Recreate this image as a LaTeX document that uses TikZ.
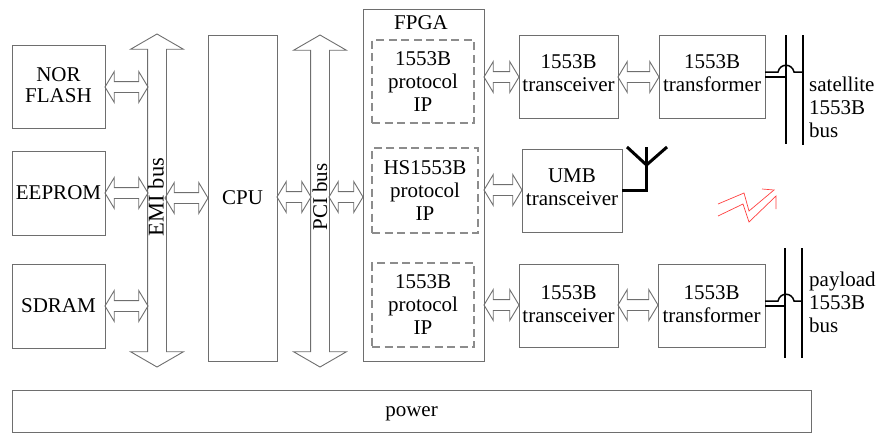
\documentclass[tikz,border=0pt]{standalone}
\usepackage{fontspec}
\setmainfont{Liberation Serif}
\usetikzlibrary{shapes.arrows}
\definecolor{edgegrey}{HTML}{6E6E6E}
\definecolor{dashgrey}{HTML}{8C8C8C}
\tikzset{
  x=1pt,y=-1pt,
  txt/.style={font=\fontsize{21}{23}\selectfont,align=center,inner sep=0pt,text=black},
  boxn/.style={draw=edgegrey,line width=1pt,fill=none,inner sep=0pt,outer sep=0pt,txt},
  dashbox/.style={boxn,draw=dashgrey,line width=1.1pt,dash pattern=on 8pt off 4.5pt},
  lift/.style={text depth=#1},
  harrow/.style={draw=edgegrey,line width=0.9pt,double arrow,inner xsep=0pt,inner ysep=5pt,outer sep=0pt,
    double arrow head extend=10pt,double arrow tip angle=118,shape border rotate=0},
  varrow/.style={draw=edgegrey,line width=0.9pt,double arrow,inner xsep=9pt,inner ysep=0pt,outer sep=0pt,
    double arrow head extend=17pt,double arrow tip angle=120,shape border rotate=90},
  wire/.style={draw=black,line width=1.5pt},
  redl/.style={draw=red!75!white,line width=0.7pt},
}
\begin{document}
\begin{tikzpicture}
\useasboundingbox (0,0) rectangle (878,434);
% memory
\node[boxn,minimum width=93pt,minimum height=83pt,font=\fontsize{21}{21}\selectfont,lift=3pt] (nor) at (58.5,86.5) {NOR\\FLASH};
\node[boxn,minimum width=93pt,minimum height=84pt] (eeprom) at (58.5,193) {EEPROM};
\node[boxn,minimum width=93pt,minimum height=84pt] (sdram) at (58.5,306) {SDRAM};
\node[boxn,minimum width=69pt,minimum height=326pt] (cpu) at (242.5,198) {CPU};
% buses
\node[varrow,minimum height=333pt] (emi) at (157,200.5) {};
\node[varrow,minimum height=332pt] (pci) at (320,201) {};
\node[txt,rotate=90,font=\fontsize{22.5}{24}\selectfont] (emil) at (156,197) {EMI bus};
\node[txt,rotate=90] (pcil) at (320,197) {PCI bus};
% FPGA
\node[boxn,minimum width=121pt,minimum height=352pt] (fpga) at (423.5,185) {};
\node[txt] (fpgal) at (421,23) {FPGA};
\node[dashbox,minimum width=102pt,minimum height=83pt] (ipa) at (423,81.5) {1553B\\protocol\\IP};
\node[dashbox,minimum width=106pt,minimum height=85pt] (ipb) at (425,190.5) {HS1553B\\protocol\\IP};
\node[dashbox,minimum width=102pt,minimum height=84pt] (ipc) at (423,305) {1553B\\protocol\\IP};
% transceivers
\node[boxn,minimum width=99pt,minimum height=83pt,lift=6pt] (xa) at (568.5,76.5) {1553B\\transceiver};
\node[boxn,minimum width=100pt,minimum height=83pt,lift=7pt] (xb) at (572,190.5) {UMB\\transceiver};
\node[boxn,minimum width=99pt,minimum height=83pt,lift=3pt] (xc) at (568.5,305.5) {1553B\\transceiver};
\node[boxn,minimum width=106pt,minimum height=83pt,lift=6pt] (ta) at (712,76.5) {1553B\\transformer};
\node[boxn,minimum width=107pt,minimum height=83pt,lift=3pt] (tc) at (711.5,305.5) {1553B\\transformer};
\node[boxn,minimum width=799pt,minimum height=42pt,text height=11pt,text depth=0pt] (power) at (411.5,411) {power};
% double arrows
\node[harrow,minimum height=43pt] (a1) at (126.5,87) {};
\node[harrow,minimum height=43pt] (a2) at (126.5,193) {};
\node[harrow,minimum height=43pt] (a3) at (126.5,306) {};
\node[harrow,minimum height=43pt] (a4) at (186.5,198) {};
\node[harrow,minimum height=34pt] (a5) at (294,197) {};
\node[harrow,minimum height=34pt] (a6) at (346,197) {};
\node[harrow,minimum height=35pt] (a7) at (501.5,77) {};
\node[harrow,minimum height=38pt] (a8) at (503,190) {};
\node[harrow,minimum height=35pt] (a9) at (501.5,305) {};
\node[harrow,minimum height=41pt] (a10) at (638.5,77) {};
\node[harrow,minimum height=40pt] (a11) at (638,305) {};
% satellite bus
\coordinate (b1t) at (786,35); \coordinate (b1b) at (786,144);
\coordinate (b2t) at (803,35); \coordinate (b2b) at (803,145);
\draw[wire] (b1t) -- (b1b);
\draw[wire] (b2t) -- (b2b);
\draw[wire] (ta.east |- 0,72) -- (778,72) .. controls (780,63) and (792,63) .. (794,72) -- (803,72);
\draw[wire] (ta.east |- 0,77) -- (786,77);
\node[txt,anchor=north west,align=left] (satl) at (809,77) {satellite\\1553B\\bus};
% payload bus
\coordinate (c1t) at (785,248); \coordinate (c1b) at (785,358);
\coordinate (c2t) at (802,248); \coordinate (c2b) at (802,358);
\draw[wire] (c1t) -- (c1b);
\draw[wire] (c2t) -- (c2b);
\draw[wire] (tc.east |- 0,301) -- (778,301) .. controls (780,292) and (792,292) .. (794,301) -- (802,301);
\draw[wire] (tc.east |- 0,306) -- (785,306);
\node[txt,anchor=north west,align=left] (payl) at (809,272) {payload\\1553B\\bus};
% antenna
\coordinate (antj) at (646.5,165); \coordinate (antt) at (646.5,147);
\coordinate (antl) at (627,147); \coordinate (antr) at (667,147);
\draw[draw=black,line width=3pt] (xb.east |- 0,190) -- (646.5,190) -- (antt);
\draw[draw=black,line width=3pt] (antl) -- (antj) -- (antr);
% red lightning
\draw[redl] (718,204) -- (744,193) -- (749,211) -- (774,190) -- (762,189);
\draw[redl] (718,216) -- (743,204) -- (749,222) -- (776,196) -- (776,209);
\end{tikzpicture}
\end{document}
